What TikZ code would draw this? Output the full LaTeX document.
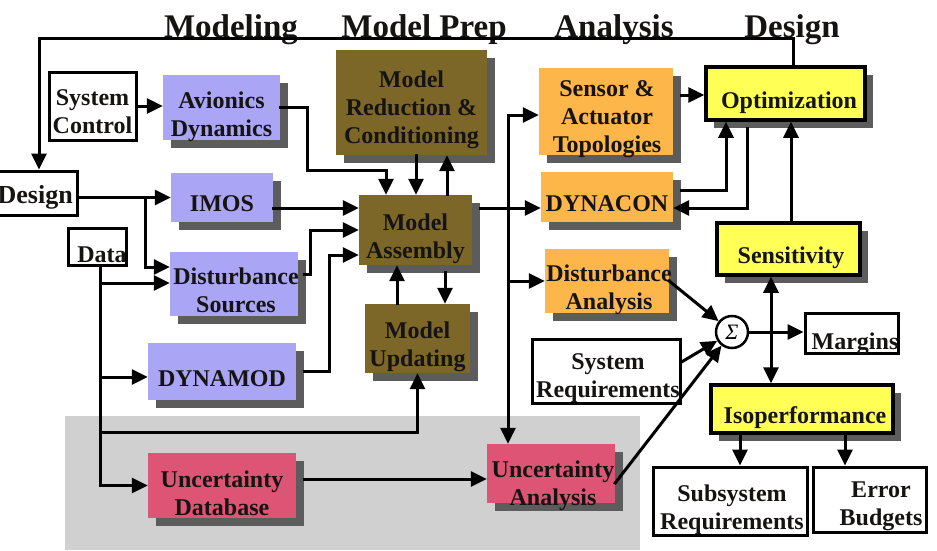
\documentclass[tikz,border=0pt]{standalone}
\usepackage{fontspec}
\setmainfont{Liberation Serif}
\usetikzlibrary{arrows.meta,shadows}
\definecolor{purp}{RGB}{170,165,245}
\definecolor{olive}{RGB}{124,102,40}
\definecolor{orng}{RGB}{253,182,74}
\definecolor{redb}{RGB}{222,84,116}
\definecolor{yel}{RGB}{255,255,85}
\definecolor{shd}{RGB}{92,92,92}
\definecolor{bgc}{RGB}{208,208,208}
\definecolor{txt}{RGB}{22,20,18}
\newcommand{\boxfnt}{\fontsize{24}{28}\selectfont\bfseries}
\newcommand{\hdrfnt}{\fontsize{33}{36}\selectfont\bfseries}
\newcommand{\mkbox}[9]{%
  \node[#2, minimum width=#5pt, minimum height=#6pt] (#1) at (#3,#4) {};
  \node[btxt] (#1-t) at (#7,#8) {#9};
}
\begin{document}
\begin{tikzpicture}[x=1pt,y=-1pt,
  cbox/.style={rectangle, inner sep=0pt, draw=none, drop shadow={shadow xshift=8pt, shadow yshift=-8pt, fill=shd, opacity=1}},
  pbox/.style={cbox, fill=purp},
  obox/.style={cbox, fill=olive},
  gbox/.style={cbox, fill=orng},
  rbox/.style={cbox, fill=redb},
  ybox/.style={cbox, draw=black, fill=yel, line width=3.5pt},
  wbox/.style={rectangle, inner sep=0pt, draw=black, fill=white, line width=3pt},
  btxt/.style={inner sep=0pt, align=center, font=\boxfnt, text=txt},
  hdr/.style={inner sep=0pt, font=\hdrfnt, text=txt},
  conn/.style={draw=black, line width=3pt, line cap=rect},
  arr/.style={conn, -{Triangle[length=16pt,width=15pt]}},
  arrb/.style={conn, {Triangle[length=16pt,width=15pt]}-{Triangle[length=16pt,width=15pt]}},
  sigc/.style={circle, draw=black, fill=white, line width=2.5pt, minimum size=32pt, inner sep=0pt, font=\fontsize{22}{22}\selectfont\itshape}
]
\useasboundingbox (0,0) rectangle (937,550);
\fill[white] (0,0) rectangle (937,550);
\fill[bgc] (65,416) rectangle (640,550);

% headers
\node[hdr, anchor=base] (h1) at (231,37) {Modeling};
\node[hdr, anchor=base] (h2) at (424,37) {Model Prep};
\node[hdr, anchor=base] (h3) at (614,37) {Analysis};
\node[hdr, anchor=base] (h4) at (792,37) {Design};

% white boxes
\mkbox{sysctl}{wbox}{92.5}{106}{87}{68}{92.5}{112}{System\\Control}
\node[wbox, minimum width=117pt, minimum height=44pt] (design) at (18.5,193) {};
\node[btxt, anchor=base east, font=\fontsize{26}{28}\selectfont\bfseries] (design-t) at (73,203) {Design};
\node[wbox, minimum width=58pt, minimum height=37pt] (data) at (97,246.5) {};
\node[btxt, anchor=base] (data-t) at (102,262) {Data};
\node[wbox, minimum width=93pt, minimum height=40pt] (margins) at (851.5,333) {};
\node[btxt, anchor=base] (margins-t) at (855,349) {Margins};
\mkbox{sysreq}{wbox}{606}{371}{148}{64}{608}{378.5}{System\\Requirements}
\mkbox{subreq}{wbox}{730}{501}{154}{68}{732}{509.5}{Subsystem\\Requirements}
\mkbox{errb}{wbox}{869.5}{499.5}{113}{65}{881}{506.5}{Error\\Budgets}

% coloured boxes
\mkbox{avi}{pbox}{221.5}{107.5}{117}{65}{221.5}{117}{Avionics\\Dynamics}
\mkbox{imos}{pbox}{222}{197.5}{102}{49}{222}{204}{IMOS}
\mkbox{disrc}{pbox}{234}{284}{128}{64}{236}{290}{Disturbance\\Sources}
\mkbox{dynamod}{pbox}{222}{371.5}{148}{57}{222}{379}{DYNAMOD}
\mkbox{udb}{rbox}{222}{485.5}{148}{65}{222}{493}{Uncertainty\\Database}
\mkbox{mrc}{obox}{411.5}{102.5}{151}{105}{411.5}{110}{Model\\Reduction \&\\Conditioning}
\mkbox{mas}{obox}{415.5}{230}{113}{70}{415.5}{238.5}{Model\\Assembly}
\mkbox{mupd}{obox}{417.5}{338.5}{105}{69}{417.5}{347}{Model\\Updating}
\mkbox{sat}{gbox}{606}{111.5}{134}{87}{607}{119.5}{Sensor \&\\Actuator\\Topologies}
\mkbox{dyncon}{gbox}{607}{197}{132}{50}{607}{204}{DYNACON}
\mkbox{dana}{gbox}{607}{281}{124}{64}{609}{289.5}{Disturbance\\Analysis}
\mkbox{uana}{rbox}{551}{473.5}{128}{59}{553}{485.5}{Uncertainty\\Analysis}
\mkbox{opt}{ybox}{785.5}{93.5}{159}{53}{789}{102.5}{Optimization}
\mkbox{sens}{ybox}{788.5}{249}{143}{52}{791}{257.5}{Sensitivity}
\mkbox{iso}{ybox}{802}{409}{182}{48}{805}{417.5}{Isoperformance}
\node[sigc] (sig) at (732,332) {Σ};

% connectors
\coordinate (topL) at (39,38);
\draw[arr] ([xshift=7.5pt]opt.north) |- (topL) -- (topL |- design.north);
\draw[arr] (sysctl.east) -- (sysctl.east -| avi.west);
\coordinate (avb) at (386,170);
\draw[arr] (avi.east) -- ++(27,0) |- (avb) -- (avb |- mas.north);
\coordinate (a1) at ([xshift=0.5pt]mas.north);
\draw[arr] (a1 |- mrc.south) -- (a1);
\coordinate (a2) at ([xshift=31.5pt]mas.north);
\draw[arr] (a2) -- (a2 |- mrc.south);
\coordinate (dbr) at (145,0);
\draw[arr] (design.east |- imos.west) -- (imos.west);
\coordinate (d1) at ([yshift=17pt]disrc.west);
\draw[arr] (dbr |- imos.west) |- (d1);
\coordinate (bx) at ([xshift=3pt]data.south);
\draw[conn] (bx) -- (bx |- udb.west);
\coordinate (d2) at ([yshift=1pt]disrc.west);
\draw[arr] (bx |- d2) -- (d2);
\coordinate (d3) at ([yshift=-5.5pt]dynamod.west);
\draw[arr] (bx |- d3) -- (d3);
\coordinate (rowU) at (0,432);
\draw[arr] (bx |- rowU) -| (mupd.south);
\draw[arr] (bx |- udb.west) -- (udb.west);
\coordinate (i1) at ([yshift=-10.5pt]imos.east);
\draw[arr] (i1) -- (i1 -| mas.west);
\coordinate (ds1) at ([xshift=6pt,yshift=10pt]disrc.east);
\draw[arr] (ds1) -- ++(6,0) |- (mas.west);
\coordinate (m3) at ([yshift=-25pt]mas.west);
\draw[arr] ([xshift=8pt]dynamod.east) -| ([xshift=-29pt]m3) -- (m3);
\coordinate (a3) at ([xshift=29.5pt,yshift=-7pt]mas.south);
\draw[arr] (a3) -- (a3 |- mupd.north);
\coordinate (a4) at ([xshift=-20.5pt]mupd.north);
\draw[arr] (a4) -- (a4 |- mas.south);
\coordinate (b1) at ([xshift=8pt,yshift=22pt]mas.east);
\draw[arr] (b1) -- (b1 -| dyncon.west);
\coordinate (sat1) at ([yshift=-3.5pt]sat.west);
\coordinate (abus) at (508,0);
\draw[arr] (abus |- sat1) -- (sat1);
\draw[arr] (abus |- sat1) -- (abus |- uana.north);
\draw[arr] (abus |- dana.west) -- (dana.west);
\coordinate (s1) at ([xshift=8pt,yshift=16.5pt]sat.east);
\draw[arr] (s1) -- (s1 -| opt.west);
\coordinate (c1) at ([xshift=8pt,yshift=7pt]dyncon.east);
\draw[arr] (c1) -| ([xshift=-59.5pt]opt.south);
\coordinate (c2) at ([xshift=-38.5pt,yshift=-7pt]opt.south);
\draw[arr] (c2) |- ([yshift=-11pt]dyncon.east);
\coordinate (c3) at ([xshift=2.5pt]sens.north);
\draw[arr] (c3) -- (c3 |- opt.south);
\draw[arr] (dana.east) -- (sig);
\draw[arr] ([yshift=9pt]sysreq.east) -- (sig);
\draw[arr] ([yshift=-9.5pt]uana.east) -- (sig);
\draw[arr] (sig) -- (sig -| margins.west);
\coordinate (v1) at ([xshift=-17.5pt]sens.south);
\draw[arrb] (v1) -- (v1 |- iso.north);
\coordinate (v2) at ([xshift=-62pt]iso.south);
\draw[arr] (v2) -- (v2 |- subreq.north);
\coordinate (v3) at ([xshift=43pt]iso.south);
\draw[arr] (v3) -- (v3 |- errb.north);
\coordinate (u1) at ([xshift=8pt,yshift=6.5pt]udb.east);
\draw[arr] (u1) -- (u1 -| uana.west);
\end{tikzpicture}
\end{document}
